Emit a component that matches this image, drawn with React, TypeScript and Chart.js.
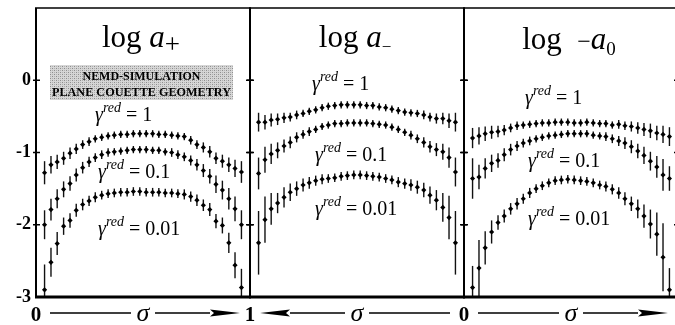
import React, { useEffect, useRef } from "react";
import { Chart, registerables } from "chart.js";

Chart.register(...registerables);

// Reduced channel coordinate of the sampling bins (0 = one wall, 1 = the other)
const SIGMA = [0.04, 0.07, 0.099, 0.129, 0.159, 0.188, 0.218, 0.248, 0.277, 0.307, 0.337, 0.366, 0.396, 0.426, 0.455, 0.485, 0.515, 0.545, 0.574, 0.604, 0.634, 0.663, 0.693, 0.723, 0.752, 0.782, 0.812, 0.841, 0.871, 0.901, 0.93, 0.96];

const Y_TICKS = [0, -1, -2, -3];
const SIGMA_ENDS = [0, 1];
const GAMMA_RED = ["1", "0.1", "0.01"];

// log a+
const A_PLUS_G1 = [-1.28, -1.17, -1.13, -1.08, -1.01, -0.95, -0.89, -0.85, -0.81, -0.79, -0.77, -0.76, -0.75, -0.75, -0.74, -0.74, -0.74, -0.74, -0.75, -0.75, -0.76, -0.77, -0.78, -0.83, -0.89, -0.93, -0.99, -1.08, -1.12, -1.17, -1.22, -1.27];
const A_PLUS_G01 = [-2.0, -1.79, -1.64, -1.51, -1.43, -1.31, -1.21, -1.13, -1.07, -1.03, -1.0, -0.99, -0.98, -0.97, -0.96, -0.96, -0.96, -0.97, -0.97, -0.99, -1.0, -1.03, -1.06, -1.11, -1.17, -1.25, -1.33, -1.44, -1.52, -1.64, -1.78, -2.0];
const A_PLUS_G001 = [-2.9, -2.52, -2.26, -2.02, -1.94, -1.8, -1.72, -1.67, -1.62, -1.59, -1.57, -1.56, -1.55, -1.55, -1.54, -1.54, -1.55, -1.55, -1.55, -1.56, -1.56, -1.57, -1.58, -1.61, -1.66, -1.73, -1.79, -1.95, -2.01, -2.25, -2.56, -2.87];
const E_PLUS_G1 = [0.16, 0.12, 0.1, 0.09, 0.08, 0.07, 0.06, 0.06, 0.05, 0.05, 0.05, 0.05, 0.05, 0.05, 0.05, 0.05, 0.05, 0.05, 0.05, 0.05, 0.05, 0.05, 0.05, 0.06, 0.06, 0.07, 0.08, 0.08, 0.09, 0.1, 0.12, 0.15];
const E_PLUS_G01 = [0.2, 0.15, 0.13, 0.11, 0.1, 0.09, 0.08, 0.07, 0.06, 0.06, 0.06, 0.05, 0.05, 0.05, 0.05, 0.05, 0.05, 0.05, 0.05, 0.05, 0.06, 0.06, 0.06, 0.07, 0.08, 0.09, 0.1, 0.12, 0.13, 0.15, 0.17, 0.2];
const E_PLUS_G001 = [0.35, 0.2, 0.16, 0.12, 0.1, 0.09, 0.08, 0.07, 0.07, 0.06, 0.06, 0.06, 0.06, 0.06, 0.06, 0.06, 0.06, 0.06, 0.06, 0.06, 0.06, 0.06, 0.07, 0.07, 0.08, 0.08, 0.09, 0.1, 0.11, 0.14, 0.18, 0.26];

// log a-
const A_MINUS_G1 = [-0.58, -0.56, -0.53, -0.53, -0.51, -0.48, -0.46, -0.45, -0.44, -0.42, -0.4, -0.38, -0.37, -0.35, -0.35, -0.34, -0.34, -0.34, -0.34, -0.35, -0.36, -0.38, -0.41, -0.43, -0.46, -0.48, -0.51, -0.52, -0.54, -0.55, -0.58, -0.58];
const A_MINUS_G01 = [-1.27, -1.07, -0.99, -0.96, -0.92, -0.86, -0.81, -0.76, -0.72, -0.68, -0.65, -0.62, -0.61, -0.6, -0.59, -0.59, -0.59, -0.59, -0.6, -0.6, -0.62, -0.64, -0.68, -0.71, -0.75, -0.79, -0.86, -0.91, -0.97, -1.02, -1.1, -1.29];
const A_MINUS_G001 = [-2.25, -1.9, -1.76, -1.66, -1.59, -1.52, -1.48, -1.45, -1.43, -1.41, -1.38, -1.36, -1.34, -1.33, -1.32, -1.31, -1.31, -1.32, -1.33, -1.35, -1.36, -1.37, -1.39, -1.42, -1.45, -1.5, -1.55, -1.62, -1.7, -1.78, -1.93, -2.25];
const E_MINUS_G1 = [0.13, 0.1, 0.08, 0.07, 0.06, 0.06, 0.05, 0.05, 0.05, 0.05, 0.05, 0.05, 0.05, 0.05, 0.05, 0.05, 0.05, 0.05, 0.05, 0.05, 0.05, 0.05, 0.05, 0.05, 0.05, 0.06, 0.06, 0.07, 0.08, 0.09, 0.1, 0.13];
const E_MINUS_G01 = [0.2, 0.14, 0.11, 0.09, 0.08, 0.07, 0.06, 0.06, 0.05, 0.05, 0.05, 0.05, 0.05, 0.05, 0.05, 0.05, 0.05, 0.05, 0.05, 0.05, 0.05, 0.05, 0.05, 0.06, 0.06, 0.07, 0.08, 0.09, 0.11, 0.14, 0.18, 0.22];
const E_MINUS_G001 = [0.44, 0.3, 0.2, 0.14, 0.12, 0.1, 0.09, 0.08, 0.07, 0.07, 0.06, 0.06, 0.06, 0.06, 0.06, 0.06, 0.06, 0.06, 0.06, 0.06, 0.06, 0.07, 0.07, 0.08, 0.09, 0.1, 0.12, 0.14, 0.14, 0.22, 0.32, 0.44];

// log -a0
const A_ZERO_G1 = [-0.8, -0.77, -0.74, -0.72, -0.71, -0.69, -0.66, -0.63, -0.62, -0.61, -0.6, -0.59, -0.59, -0.58, -0.58, -0.58, -0.59, -0.59, -0.58, -0.59, -0.6, -0.6, -0.62, -0.61, -0.63, -0.64, -0.66, -0.68, -0.7, -0.73, -0.75, -0.78];
const A_ZERO_G01 = [-1.36, -1.34, -1.22, -1.15, -1.11, -1.03, -0.96, -0.91, -0.87, -0.84, -0.81, -0.79, -0.77, -0.76, -0.75, -0.74, -0.74, -0.74, -0.74, -0.76, -0.77, -0.78, -0.81, -0.84, -0.87, -0.92, -0.98, -1.04, -1.12, -1.2, -1.31, -1.36];
const A_ZERO_G001 = [-2.87, -2.6, -2.32, -2.1, -1.97, -1.88, -1.78, -1.71, -1.64, -1.56, -1.5, -1.46, -1.42, -1.39, -1.38, -1.37, -1.38, -1.39, -1.4, -1.42, -1.45, -1.47, -1.51, -1.56, -1.64, -1.71, -1.78, -1.88, -1.99, -2.13, -2.45, -2.9];
const E_ZERO_G1 = [0.14, 0.12, 0.1, 0.09, 0.08, 0.07, 0.06, 0.06, 0.05, 0.05, 0.05, 0.05, 0.05, 0.05, 0.05, 0.05, 0.05, 0.05, 0.05, 0.05, 0.05, 0.05, 0.05, 0.06, 0.06, 0.07, 0.08, 0.09, 0.1, 0.1, 0.12, 0.13];
const E_ZERO_G01 = [0.28, 0.17, 0.14, 0.12, 0.1, 0.09, 0.08, 0.07, 0.06, 0.06, 0.05, 0.05, 0.05, 0.05, 0.05, 0.05, 0.05, 0.05, 0.05, 0.05, 0.05, 0.06, 0.06, 0.07, 0.08, 0.09, 0.1, 0.12, 0.13, 0.15, 0.22, 0.17];
const E_ZERO_G001 = [0.3, 0.39, 0.23, 0.16, 0.1, 0.09, 0.08, 0.08, 0.07, 0.07, 0.06, 0.06, 0.06, 0.06, 0.06, 0.06, 0.06, 0.06, 0.06, 0.06, 0.06, 0.07, 0.07, 0.08, 0.09, 0.1, 0.13, 0.16, 0.2, 0.3, 0.47, 0.3];

const SERIF = '"Liberation Serif", "DejaVu Serif", serif';
const CANVAS_W = 700;
const CANVAS_H = 325;
const PLOT_TOP = 8;
const PLOT_BOTTOM = 297;
const Y_AXIS_W = 36;

type Series = { values: number[]; errors: number[] };
type Part = { text: string; size: number; italic?: boolean; bold?: boolean; dy?: number };
type PanelDef = {
  id: string;
  left: number;
  right: number;
  reverse: boolean;
  showY: boolean;
  title: Part[];
  titleBaseline: number;
  series: Series[];
  gammaPos: [number, number][];
  endLabels: number[];
  banner: boolean;
};

const PANELS: PanelDef[] = [
  {
    id: "plus",
    left: 36,
    right: 250,
    reverse: false,
    showY: true,
    title: [
      { text: "log ", size: 31 },
      { text: "a", size: 31, italic: true },
      { text: "+", size: 27, dy: 6 },
    ],
    titleBaseline: 39,
    series: [
      { values: A_PLUS_G1, errors: E_PLUS_G1 },
      { values: A_PLUS_G01, errors: E_PLUS_G01 },
      { values: A_PLUS_G001, errors: E_PLUS_G001 },
    ],
    gammaPos: [[59, 113], [62, 170], [62, 227]],
    endLabels: SIGMA_ENDS,
    banner: true,
  },
  {
    id: "minus",
    left: 250,
    right: 464,
    reverse: true,
    showY: false,
    title: [
      { text: "log ", size: 31 },
      { text: "a", size: 31, italic: true },
      { text: "\u2212", size: 17, dy: 5 },
    ],
    titleBaseline: 39,
    series: [
      { values: A_MINUS_G1, errors: E_MINUS_G1 },
      { values: A_MINUS_G01, errors: E_MINUS_G01 },
      { values: A_MINUS_G001, errors: E_MINUS_G001 },
    ],
    gammaPos: [[62, 82], [65, 153], [65, 207]],
    endLabels: [],
    banner: false,
  },
  {
    id: "zero",
    left: 464,
    right: 678,
    reverse: false,
    showY: false,
    title: [
      { text: "log  ", size: 31 },
      { text: "\u2212", size: 24 },
      { text: "a", size: 31, italic: true },
      { text: "0", size: 19, dy: 6 },
    ],
    titleBaseline: 41,
    series: [
      { values: A_ZERO_G1, errors: E_ZERO_G1 },
      { values: A_ZERO_G01, errors: E_ZERO_G01 },
      { values: A_ZERO_G001, errors: E_ZERO_G001 },
    ],
    gammaPos: [[61, 96], [64, 159], [64, 217]],
    endLabels: [0],
    banner: false,
  },
];

function fontOf(p: Part) {
  return `${p.italic ? "italic " : ""}${p.bold ? "bold " : ""}${p.size}px ${SERIF}`;
}

function drawParts(ctx: CanvasRenderingContext2D, parts: Part[], x: number, y: number, center: boolean) {
  let total = 0;
  for (const p of parts) {
    ctx.font = fontOf(p);
    total += ctx.measureText(p.text).width;
  }
  let cx = center ? x - total / 2 : x;
  ctx.textAlign = "left";
  ctx.textBaseline = "alphabetic";
  for (const p of parts) {
    ctx.font = fontOf(p);
    ctx.fillText(p.text, cx, y + (p.dy || 0));
    cx += ctx.measureText(p.text).width;
  }
}

function gammaParts(level: string): Part[] {
  return [
    { text: "\u03b3", size: 20, italic: true },
    { text: "red", size: 14, italic: true, dy: -9 },
    { text: " = ", size: 20 },
    { text: level, size: 20 },
  ];
}

function stipple(ctx: CanvasRenderingContext2D) {
  const c = document.createElement("canvas");
  c.width = 4;
  c.height = 4;
  const g = c.getContext("2d")!;
  g.fillStyle = "#d6d6d6";
  g.fillRect(0, 0, 4, 4);
  g.fillStyle = "#8e8e8e";
  g.fillRect(0, 0, 1, 1);
  g.fillRect(2, 2, 1, 1);
  g.fillStyle = "#b0b0b0";
  g.fillRect(2, 0, 1, 1);
  g.fillRect(0, 2, 1, 1);
  return ctx.createPattern(c, "repeat");
}

function fitText(ctx: CanvasRenderingContext2D, text: string, cx: number, y: number, w: number) {
  const m = ctx.measureText(text).width;
  ctx.save();
  ctx.translate(cx, y);
  ctx.scale(w / m, 1);
  ctx.textAlign = "center";
  ctx.fillText(text, 0, 0);
  ctx.restore();
}

// Vertical error bars under each marker
const errorBars = {
  id: "errorBars",
  beforeDatasetsDraw(chart: any) {
    const { ctx, chartArea: a } = chart;
    const y = chart.scales.y;
    ctx.save();
    ctx.beginPath();
    ctx.rect(a.left, a.top, a.right - a.left, a.bottom - a.top);
    ctx.clip();
    ctx.strokeStyle = "#111";
    ctx.lineWidth = 1.4;
    chart.data.datasets.forEach((ds: any, di: number) => {
      const meta = chart.getDatasetMeta(di);
      meta.data.forEach((el: any, i: number) => {
        const v = ds.data[i].y;
        const e = ds.errors[i];
        ctx.beginPath();
        ctx.moveTo(el.x, y.getPixelForValue(v + e));
        ctx.lineTo(el.x, y.getPixelForValue(v - e));
        ctx.stroke();
      });
    });
    ctx.restore();
  },
};

// Panel frame with small tick marks across each vertical edge
const frame = {
  id: "frame",
  afterDraw(chart: any) {
    const { ctx, chartArea: a } = chart;
    const y = chart.scales.y;
    ctx.save();
    ctx.strokeStyle = "#000";
    ctx.lineCap = "butt";
    ctx.lineWidth = 2;
    ctx.beginPath();
    ctx.moveTo(a.left, a.top);
    ctx.lineTo(a.left, a.bottom);
    ctx.moveTo(a.right, a.top);
    ctx.lineTo(a.right, a.bottom);
    ctx.stroke();
    ctx.lineWidth = 1.6;
    ctx.beginPath();
    ctx.moveTo(a.left - 1, a.top);
    ctx.lineTo(a.right + 1, a.top);
    ctx.stroke();
    ctx.lineWidth = 3;
    ctx.beginPath();
    ctx.moveTo(a.left - 1, a.bottom);
    ctx.lineTo(a.right + 1, a.bottom);
    ctx.stroke();
    ctx.lineWidth = 1.5;
    for (const v of Y_TICKS) {
      if (v <= -3) continue;
      const py = y.getPixelForValue(v);
      ctx.beginPath();
      ctx.moveTo(a.left - 3, py);
      ctx.lineTo(a.left + 4, py);
      ctx.moveTo(a.right - 4, py);
      ctx.lineTo(a.right + 3, py);
      ctx.stroke();
    }
    ctx.restore();
  },
};

function textLayer(p: PanelDef) {
  return {
    id: "textLayer",
    afterDraw(chart: any) {
      const { ctx, chartArea: a } = chart;
      const x = chart.scales.x;
      ctx.save();
      ctx.fillStyle = "#000";
      ctx.strokeStyle = "#000";

      // title
      drawParts(ctx, p.title, (a.left + a.right) / 2 - 2, a.top + p.titleBaseline, true);

      // shear-rate labels
      p.gammaPos.forEach(([dx, dy], i) => {
        drawParts(ctx, gammaParts(GAMMA_RED[i]), a.left + dx, a.top + dy, false);
      });

      // simulation banner
      if (p.banner) {
        const bx = a.left + 14;
        const by = a.top + 57;
        const bw = 183;
        const bh = 35;
        ctx.fillStyle = stipple(ctx) as any;
        ctx.fillRect(bx, by, bw, bh);
        ctx.fillStyle = "#000";
        ctx.font = `bold 12px ${SERIF}`;
        ctx.textBaseline = "alphabetic";
        fitText(ctx, "NEMD-SIMULATION", bx + bw / 2, by + 15, 118);
        fitText(ctx, "PLANE COUETTE GEOMETRY", bx + bw / 2, by + 31, 179);
      }

      // sigma axis caption with arrow pointing toward sigma = 1
      const lo = x.getPixelForValue(0);
      const hi = x.getPixelForValue(1);
      const c = (lo + hi) / 2;
      const d = Math.sign(hi - lo);
      const lineY = 313;
      const base = 321;
      ctx.font = `italic 26px ${SERIF}`;
      ctx.textAlign = "center";
      ctx.textBaseline = "alphabetic";
      ctx.fillText("\u03c3", c, base);
      ctx.lineWidth = 1.4;
      const tip = hi - d * 10;
      const arrowBase = tip - d * 30;
      ctx.beginPath();
      ctx.moveTo(lo + d * 14, lineY);
      ctx.lineTo(c - d * 12, lineY);
      ctx.moveTo(c + d * 12, lineY);
      ctx.lineTo(arrowBase, lineY);
      ctx.stroke();
      ctx.beginPath();
      ctx.moveTo(tip, lineY);
      ctx.lineTo(arrowBase, lineY - 3.4);
      ctx.lineTo(arrowBase + d * 4, lineY);
      ctx.lineTo(arrowBase, lineY + 3.4);
      ctx.closePath();
      ctx.fill();

      ctx.font = `bold 21px ${SERIF}`;
      for (const v of p.endLabels) {
        ctx.fillText(String(v), x.getPixelForValue(v), base);
      }
      ctx.restore();
    },
  };
}

function makeConfig(p: PanelDef): any {
  return {
    type: "scatter",
    data: {
      datasets: p.series.map((s) => ({
        data: SIGMA.map((sx, i) => ({ x: sx, y: s.values[i] })),
        errors: s.errors,
        pointStyle: "rectRot",
        pointRadius: 2.6,
        pointHoverRadius: 2.6,
        backgroundColor: "#000",
        borderColor: "#000",
        borderWidth: 0,
        showLine: false,
      })),
    },
    options: {
      responsive: false,
      animation: false,
      devicePixelRatio: 1,
      events: [],
      layout: {
        padding: {
          left: p.showY ? p.left - Y_AXIS_W : p.left,
          right: CANVAS_W - p.right,
          top: PLOT_TOP,
          bottom: CANVAS_H - PLOT_BOTTOM,
        },
      },
      plugins: { legend: { display: false }, tooltip: { enabled: false } },
      scales: {
        x: { type: "linear", min: 0, max: 1, reverse: p.reverse, display: false },
        y: {
          type: "linear",
          min: -3,
          max: 1,
          display: p.showY,
          position: "left",
          afterFit: (s: any) => {
            if (!p.showY) return;
            s.width = Y_AXIS_W;
            s.paddingTop = 0;
            s.paddingBottom = 0;
          },
          grid: { display: false, drawTicks: false },
          border: { display: false },
          ticks: {
            stepSize: 1,
            color: "#000",
            padding: 5,
            font: { family: SERIF, size: 18, weight: "bold" },
            callback: (v: number) => (Y_TICKS.includes(v) ? String(v) : ""),
          },
        },
      },
    },
    plugins: [errorBars, frame, textLayer(p)],
  };
}

function PanelChart({ panel }: { panel: PanelDef }) {
  const ref = useRef<HTMLCanvasElement>(null);
  useEffect(() => {
    const chart = new Chart(ref.current!, makeConfig(panel));
    return () => chart.destroy();
  }, [panel]);
  return (
    <canvas
      ref={ref}
      width={CANVAS_W}
      height={CANVAS_H}
      style={{ position: "absolute", left: 0, top: 0, width: CANVAS_W, height: CANVAS_H }}
    />
  );
}

export default function App() {
  return (
    <div
      style={{
        position: "absolute",
        left: 0,
        top: 0,
        width: 675,
        height: 325,
        overflow: "hidden",
        background: "#fff",
      }}
    >
      {PANELS.map((p) => (
        <PanelChart key={p.id} panel={p} />
      ))}
    </div>
  );
}
